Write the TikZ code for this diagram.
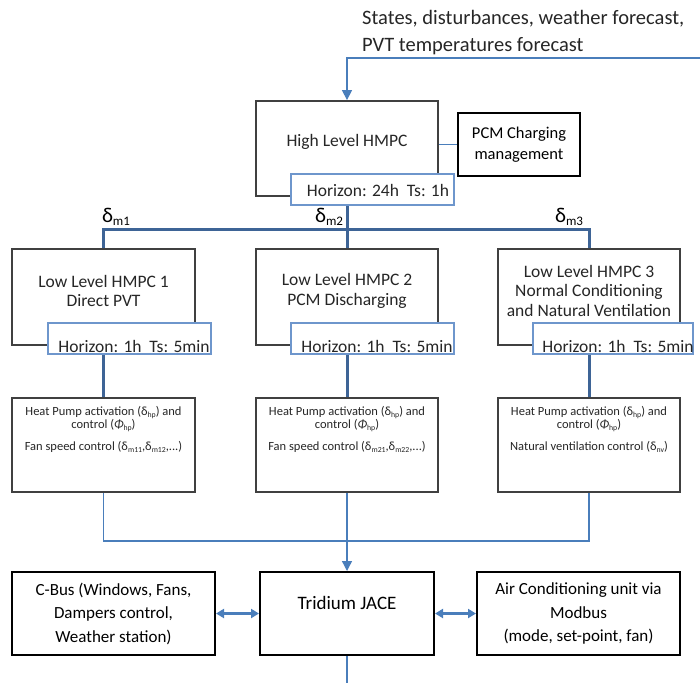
\documentclass[tikz,border=0pt]{standalone}
\usepackage{fontspec}
\setmainfont{Carlito}
\usetikzlibrary{arrows.meta}
\definecolor{boxgray}{HTML}{404040}
\definecolor{hzblue}{HTML}{6E96CC}
\definecolor{busblue}{HTML}{3E6496}
\definecolor{lineblue}{HTML}{4A7EBB}
\newcommand{\dsub}[2]{#1\raisebox{-0.35ex}{\fontsize{0.62em}{1em}\selectfont #2}}
\begin{document}
\begin{tikzpicture}[x=1pt,y=-1pt,
  graybox/.style={draw=boxgray,line width=1.8pt,fill=white,rectangle,inner sep=0pt},
  blackbox/.style={draw=black,line width=2pt,fill=white,rectangle,inner sep=0pt,align=center},
  hzbox/.style={draw=hzblue,line width=1.5pt,fill=white,rectangle,inner sep=0pt},
  txt/.style={inner sep=0pt,align=center,text=black!85},
  bus/.style={draw=busblue,line width=3pt},
  thinline/.style={draw=lineblue,line width=1.3pt},
  arr/.style={thinline,-{Triangle[width=10pt,length=10pt]}},
  biarr/.style={draw=lineblue,line width=2.6pt,{Triangle[width=9pt,length=8pt]}-{Triangle[width=9pt,length=8pt]}},
  big/.style={font=\fontsize{17.5}{19.5}\selectfont},
  small/.style={font=\fontsize{12.5}{12}\selectfont}
]
\useasboundingbox (0,0) rectangle (700,683);

% top input
\node[txt,anchor=north west,font=\fontsize{20.5}{27}\selectfont,align=left] (topt) at (362,10)
  {States, disturbances, weather forecast,\\PVT temperatures forecast};
\coordinate (inp) at (700,58);

% high level
\node[graybox,minimum width=182pt,minimum height=95pt] (hl) at (347,148.5) {};
\node[txt,big] (hlt) at (347,142) {High Level HMPC};
\node[hzbox,minimum width=163pt,minimum height=31pt] (hz0) at (372.5,189.5) {};
\node[txt,big] (hz0t) at (378,190) {Horizon: 24h\ \ Ts: 1h};
\node[blackbox,font=\fontsize{16.5}{21}\selectfont,minimum width=122pt,minimum height=63pt,line width=1.8pt] (pcm) at (519,144.5) {PCM Charging\\management};
\draw[thinline] (hl.east |- pcm.west) -- (pcm.west);
\draw[arr] (inp) -| (hl.north);

% low level boxes
\node[graybox,minimum width=183pt,minimum height=96pt] (ll1) at (103.5,297) {};
\node[graybox,minimum width=182pt,minimum height=96pt] (ll2) at (347,297) {};
\node[graybox,minimum width=182pt,minimum height=96pt] (ll3) at (589,297) {};
\node[txt,big] (ll1t) at (103.5,291) {Low Level HMPC 1\\Direct PVT};
\node[txt,big] (ll2t) at (347,291) {Low Level HMPC 2\\PCM Discharging};
\node[txt,big] (ll3t) at (589,290.5) {Low Level HMPC 3\\Normal Conditioning\\and Natural Ventilation};
\node[hzbox,minimum width=163pt,minimum height=31pt] (hz1) at (129.5,338.5) {};
\node[hzbox,minimum width=163pt,minimum height=31pt] (hz2) at (372.5,338.5) {};
\node[hzbox,minimum width=160pt,minimum height=31pt] (hz3) at (613,338.5) {};
\node[txt,big] (hz1t) at (134,346) {Horizon: 1h\ \ Ts: 5min};
\node[txt,big] (hz2t) at (377,346) {Horizon: 1h\ \ Ts: 5min};
\node[txt,big] (hz3t) at (618,346) {Horizon: 1h\ \ Ts: 5min};

% bus
\coordinate (busL) at (103.5,229);
\draw[bus] (ll1.north) -- (busL) -- (ll3.north |- busL) -- (ll3.north);
\draw[bus] (ll2.north) -- (hl.south |- hz0.south);
\node[txt,font=\fontsize{21}{24}\selectfont,text=black] (d1) at (116,217) {\dsub{δ}{m1}};
\node[txt,font=\fontsize{21}{24}\selectfont,text=black] (d2) at (329,217) {\dsub{δ}{m2}};
\node[txt,font=\fontsize{21}{24}\selectfont,text=black] (d3) at (569,217) {\dsub{δ}{m3}};

% sub boxes
\node[graybox,minimum width=183pt,minimum height=94pt] (sub1) at (103.5,445) {};
\node[graybox,minimum width=182pt,minimum height=94pt] (sub2) at (347,445) {};
\node[graybox,minimum width=182pt,minimum height=94pt] (sub3) at (589,445) {};
\draw[bus] (ll1.south |- hz1.south) -- (sub1.north);
\draw[bus] (ll2.south |- hz2.south) -- (sub2.north);
\draw[bus] (ll3.south |- hz3.south) -- (sub3.north);
\node[txt,small,anchor=north] (s1t) at (103.5,406)
  {Heat Pump activation (\dsub{δ}{hp}) and\\control (\dsub{\textit{Φ}}{hp})\\[8pt]Fan speed control (\dsub{δ}{m11},\dsub{δ}{m12},...)};
\node[txt,small,anchor=north] (s2t) at (347,406)
  {Heat Pump activation (\dsub{δ}{hp}) and\\control (\dsub{\textit{Φ}}{hp})\\[8pt]Fan speed control (\dsub{δ}{m21},\dsub{δ}{m22},...)};
\node[txt,small,anchor=north] (s3t) at (589,406)
  {Heat Pump activation (\dsub{δ}{hp}) and\\control (\dsub{\textit{Φ}}{hp})\\[8pt]Natural ventilation control (\dsub{δ}{nv})};

% bottom row
\node[blackbox,minimum width=203pt,minimum height=83pt,font=\fontsize{17}{23.5}\selectfont] (cbus) at (113.5,613.5)
  {C-Bus (Windows, Fans,\\Dampers control,\\Weather station)};
\node[blackbox,minimum width=174pt,minimum height=83pt] (jace) at (347,613.5) {};
\node[txt,font=\fontsize{19}{22}\selectfont,text=black] (jacet) at (347,603) {Tridium JACE};
\node[blackbox,minimum width=203pt,minimum height=83pt,font=\fontsize{17}{23.5}\selectfont] (ac) at (578.5,613.5)
  {Air Conditioning unit via\\Modbus\\(mode, set-point, fan)};
\coordinate (join) at (347,541);
\draw[thinline] (sub1.south) -- (sub1.south |- join) -- (sub3.south |- join) -- (sub3.south);
\draw[arr] (sub2.south) -- (jace.north);
\coordinate (outp) at (347,683);
\draw[thinline] (jace.south) -- (outp);
\draw[biarr] (cbus.east) -- (jace.west);
\draw[biarr] (jace.east) -- (ac.west);
\end{tikzpicture}
\end{document}
